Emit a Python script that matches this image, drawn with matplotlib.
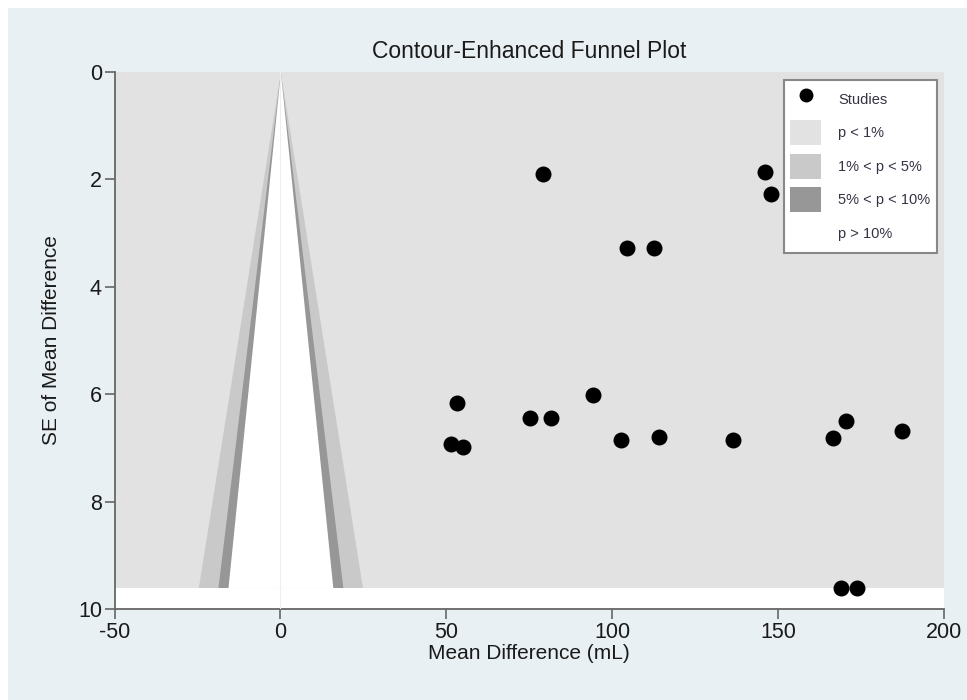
import numpy as np
import matplotlib.pyplot as plt
from matplotlib.patches import Rectangle
from matplotlib.lines import Line2D
from matplotlib.patches import Patch

plt.rcParams['font.family'] = ['Liberation Sans', 'DejaVu Sans']
plt.rcParams['axes.unicode_minus'] = False

# study estimates: mean difference (mL) and its standard error
mean_diff = [79.0, 146.2, 147.8, 104.4, 112.7,
             53.2, 51.5, 54.9, 75.1, 81.5, 94.2, 102.6, 114.0,
             136.4, 166.5, 170.6, 187.3, 169.1, 173.9]
se_diff = [1.90, 1.87, 2.28, 3.28, 3.28,
           6.16, 6.93, 6.99, 6.45, 6.45, 6.01, 6.85, 6.79,
           6.85, 6.82, 6.49, 6.69, 9.60, 9.60]

# z cut-offs for the significance contours
z_10, z_5, z_1 = 1.645, 1.96, 2.576
pooled = 0.0

c_bg = '#e8f0f3'
c_p1 = '#e2e2e2'
c_p5 = '#c9c9c9'
c_p10 = '#979797'

fig = plt.figure(figsize=(9.67, 7.0), dpi=100, facecolor='white')
fig.patches.append(Rectangle((8 / 967, 0), 1, 1 - 8 / 700, transform=fig.transFigure,
                             facecolor=c_bg, edgecolor='none', zorder=-10))
ax = fig.add_axes([114.5 / 967, 1 - 609 / 700, (944 - 114.5) / 967, (609 - 72) / 700])
ax.set_facecolor('white')

se_max = max(se_diff)
se = np.linspace(0, se_max, 200)

ax.fill_between([-50, 200], 0, se_max, color=c_p1, lw=0, zorder=0)
ax.fill_betweenx(se, pooled - z_1 * se, pooled + z_1 * se, color=c_p5, lw=0, zorder=1)
ax.fill_betweenx(se, pooled - z_5 * se, pooled + z_5 * se, color=c_p10, lw=0, zorder=2)
ax.fill_betweenx(se, pooled - z_10 * se, pooled + z_10 * se, color='white', lw=0, zorder=3)
ax.plot([pooled, pooled], [0, 10], color='#eeeeee', lw=0.8, zorder=4)

ax.scatter(mean_diff, se_diff, s=110, color='black', zorder=5, clip_on=False)

ax.set_xlim(-50, 200)
ax.set_ylim(10, 0)
ax.set_xticks([-50, 0, 50, 100, 150, 200])
ax.set_yticks([0, 2, 4, 6, 8, 10])

for side in ['top', 'right']:
    ax.spines[side].set_visible(False)
for side in ['left', 'bottom']:
    ax.spines[side].set_color('#666666')
    ax.spines[side].set_linewidth(1.3)
ax.tick_params(colors='#666666', length=7, width=1.2, labelsize=15.5,
               labelcolor='#1a1a1a', pad=2)

ax.set_title('Contour-Enhanced Funnel Plot', fontsize=16.5, color='#1a1a1a', pad=10)
ax.set_xlabel('Mean Difference (mL)', fontsize=15, color='#1a1a1a', labelpad=1)
ax.set_ylabel('SE of Mean Difference', fontsize=15, color='#1a1a1a', labelpad=12)

handles = [
    Line2D([], [], marker='o', ls='none', color='black', markersize=9),
    Patch(facecolor=c_p1, edgecolor='none'),
    Patch(facecolor=c_p5, edgecolor='none'),
    Patch(facecolor=c_p10, edgecolor='none'),
    Patch(facecolor='white', edgecolor='none'),
]
labels = ['Studies', 'p < 1%', '1% < p < 5%', '5% < p < 10%', 'p > 10%']
leg = ax.legend(handles, labels, loc='upper right', bbox_to_anchor=(0.9916, 0.985),
                borderaxespad=0, fontsize=10.5, frameon=True, fancybox=False, framealpha=1,
                handlelength=2.1, handleheight=2.26, labelspacing=0.59,
                borderpad=0.45, handletextpad=1.2, labelcolor='#333344')
leg.get_frame().set_edgecolor('#888888')
leg.get_frame().set_linewidth(1.5)
leg.set_zorder(10)

plt.savefig('out.png', dpi=100, facecolor=fig.get_facecolor())
